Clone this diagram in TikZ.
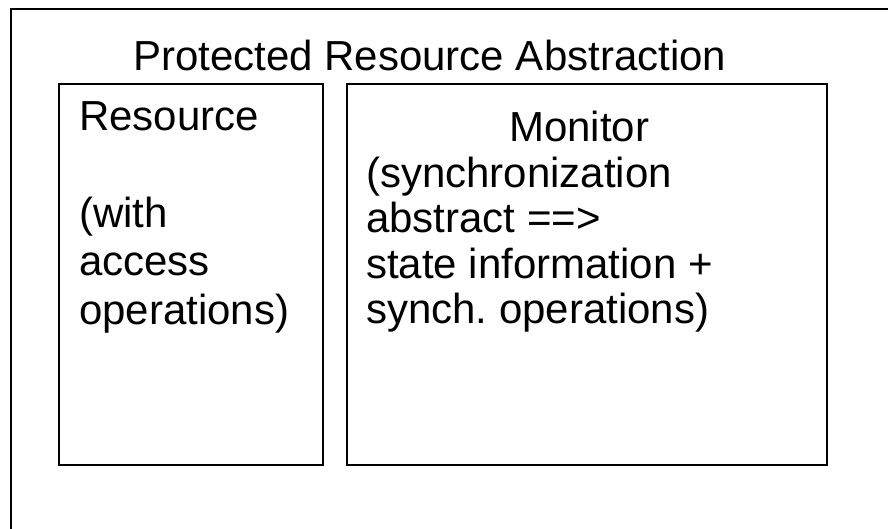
\documentclass[tikz,border=0pt]{standalone}
\usepackage{fontspec}
\setmainfont{Liberation Sans}
\frenchspacing
\begin{document}
\begin{tikzpicture}[x=1pt,y=-1pt,
  frame/.style={draw=black,line width=1.8pt},
  box/.style={draw=black,line width=1.8pt,rectangle,anchor=north west,inner sep=0pt,outer sep=0pt},
  txt/.style={anchor=base west,inner sep=0pt,font=\fontsize{42}{48}\selectfont}]
\useasboundingbox (0,0) rectangle (888,529);
\fill[white] (0,0) rectangle (888,529);
\coordinate (obl) at (11,540);
\coordinate (otl) at (11,9);
\coordinate (otr) at (900,9);
\draw[frame] (obl) -- (otl) -- (otr);
\node[txt] (title) at (133,71) {Protected Resource Abstraction};
\node[box,minimum width=264pt,minimum height=381pt] (res) at (59,84) {};
\node[box,minimum width=480pt,minimum height=381pt] (mon) at (347,84) {};
\node[txt] (r1) at (79,131) {Resource};
\node[txt] (r2) at (79,228) {(with};
\node[txt] (r3) at (79,276) {access};
\node[txt] (r4) at (79,324) {operations)};
\node[txt] (m1) at (509,142) {Monitor};
\node[txt] (m2) at (366,188) {(synchronization};
\node[txt] (m3) at (366,233) {abstract ==>};
\node[txt] (m4) at (366,278) {state information +};
\node[txt] (m5) at (366,323) {synch. operations)};
\end{tikzpicture}
\end{document}
